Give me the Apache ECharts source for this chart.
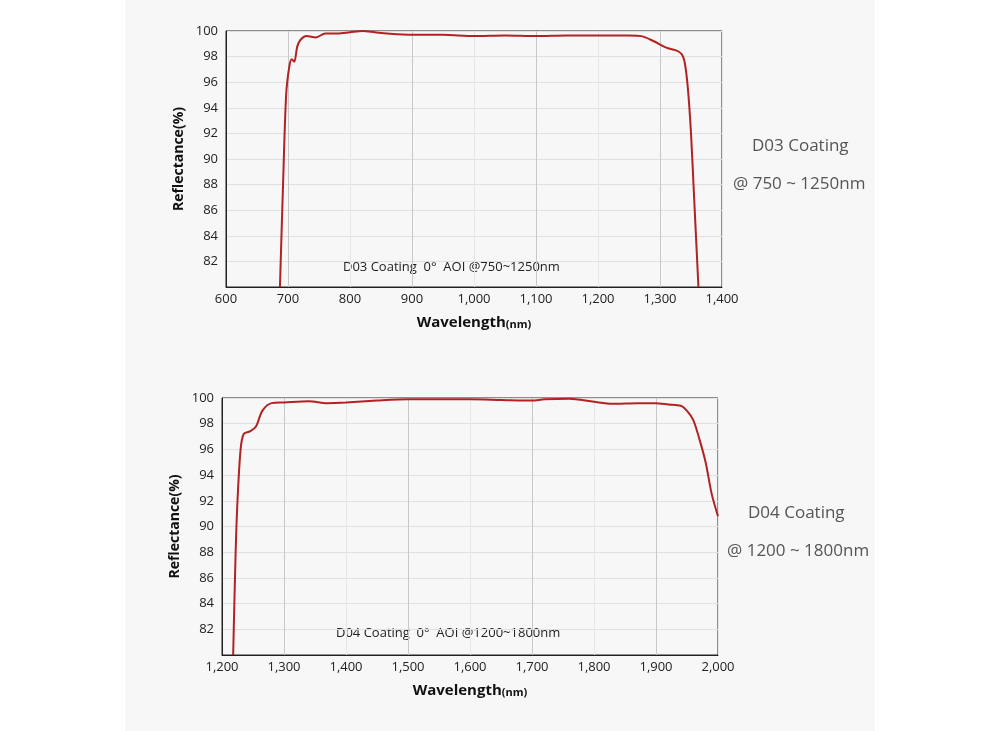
<!DOCTYPE html>
<html>
<head>
<meta charset="utf-8">
<script src="https://cdn.jsdelivr.net/npm/echarts@6/dist/echarts.min.js"></script>
<style>
  html, body { margin: 0; padding: 0; background: #fff; }
  #panel { position: absolute; left: 125px; top: 0; width: 750px; height: 731px; background: #f7f7f8; }
  #main { position: absolute; left: 0; top: 0; width: 1000px; height: 731px; }
</style>
</head>
<body>
<div id="panel"></div>
<div id="main"></div>
<script>
// D03 curve: [wavelength nm, reflectance %]
var d03 = [
  [687, 80], [692, 88], [697, 95], [702, 97.2], [706, 97.8], [710, 97.6], [715, 98.8],
  [720, 99.3], [730, 99.6], [745, 99.5], [760, 99.8], [780, 99.8], [800, 99.9],
  [820, 100], [840, 99.9], [860, 99.8], [900, 99.7], [950, 99.7], [1000, 99.6],
  [1050, 99.65], [1100, 99.6], [1150, 99.65], [1200, 99.65], [1250, 99.65],
  [1270, 99.6], [1290, 99.2], [1310, 98.7], [1325, 98.5], [1335, 98.2], [1340, 97.5],
  [1345, 95.5], [1350, 92], [1355, 87], [1360, 82], [1362, 80]
];
// D04 curve
var d04 = [
  [1218, 80], [1222, 88], [1225, 92], [1230, 96], [1235, 97.2], [1245, 97.4],
  [1255, 97.8], [1265, 99], [1280, 99.6], [1300, 99.65], [1340, 99.75], [1370, 99.6],
  [1400, 99.65], [1450, 99.8], [1500, 99.9], [1550, 99.9], [1600, 99.9], [1650, 99.85],
  [1700, 99.8], [1720, 99.9], [1760, 99.95], [1800, 99.7], [1830, 99.55], [1870, 99.6],
  [1900, 99.6], [1920, 99.5], [1940, 99.4], [1950, 99.0], [1960, 98.3], [1970, 96.8],
  [1980, 95], [1990, 92.5], [2000, 90.8]
];
var xRange1 = [600, 1400];
var xRange2 = [1200, 2000];
var yRange = [80, 100];
var notes1 = ['D03 Coating  0°  AOI @750~1250nm', 'D03 Coating', '@ 750 ~ 1250nm'];
var notes2 = ['D04 Coating  0°  AOI @1200~1800nm', 'D04 Coating', '@ 1200 ~ 1800nm'];

var chart = echarts.init(document.getElementById('main'));
var font = 'Open Sans, Liberation Sans, sans-serif';

function xAxis(idx, r) {
  return {
    type: 'value', gridIndex: idx, min: r[0], max: r[1], interval: 100,
    name: '{b|Wavelength}{s|(nm)}', nameLocation: 'middle', nameGap: 28,
    nameTextStyle: { rich: {
      b: { fontSize: 15, fontWeight: 'bold', color: '#111', fontFamily: font },
      s: { fontSize: 11, fontWeight: 'bold', color: '#111', fontFamily: font, verticalAlign: 'bottom' }
    } },
    axisLine: { lineStyle: { color: '#222' } }, axisTick: { show: false },
    axisLabel: { color: '#222', fontSize: 13, fontFamily: font, margin: 6 },
    splitLine: { show: true, lineStyle: { color: ['#e6e6e6', '#c8c8c8'] } }
  };
}
function yAxis(idx) {
  return {
    type: 'value', gridIndex: idx, min: yRange[0], max: yRange[1], interval: 2,
    name: 'Reflectance(%)', nameLocation: 'middle', nameGap: 40, nameRotate: 90,
    nameTextStyle: { fontSize: 14, fontWeight: 'bold', color: '#111', fontFamily: font },
    axisLine: { show: true, lineStyle: { color: '#222' } }, axisTick: { show: false },
    axisLabel: { color: '#222', fontSize: 13, fontFamily: font,
      formatter: function (v) { return v === 80 ? '' : v; } },
    splitLine: { lineStyle: { color: '#e0e0e0' } }
  };
}
function txt(left, top, s, size) {
  return { type: 'text', left: left, top: top,
    style: { text: s, fontSize: size, fill: size > 14 ? '#555' : '#222', fontFamily: font } };
}

chart.setOption({
  animation: false,
  grid: [
    { left: 226, top: 31, width: 496, height: 256, show: true, borderColor: '#222', borderWidth: 1, backgroundColor: 'transparent' },
    { left: 222, top: 398, width: 496, height: 257, show: true, borderColor: '#222', borderWidth: 1, backgroundColor: 'transparent' }
  ],
  xAxis: [xAxis(0, xRange1), xAxis(1, xRange2)],
  yAxis: [yAxis(0), yAxis(1)],
  graphic: [
    txt(343, 261, notes1[0], 13), txt(752, 138, notes1[1], 17), txt(733, 176, notes1[2], 17),
    txt(336, 627, notes2[0], 13), txt(748, 505, notes2[1], 17), txt(727, 543, notes2[2], 17)
  ],
  series: [
    { type: 'line', xAxisIndex: 0, yAxisIndex: 0, data: d03, smooth: 0.3, showSymbol: false,
      lineStyle: { color: '#b22222', width: 2 } },
    { type: 'line', xAxisIndex: 1, yAxisIndex: 1, data: d04, smooth: 0.3, showSymbol: false,
      lineStyle: { color: '#b22222', width: 2 } }
  ]
});
</script>
</body>
</html>
